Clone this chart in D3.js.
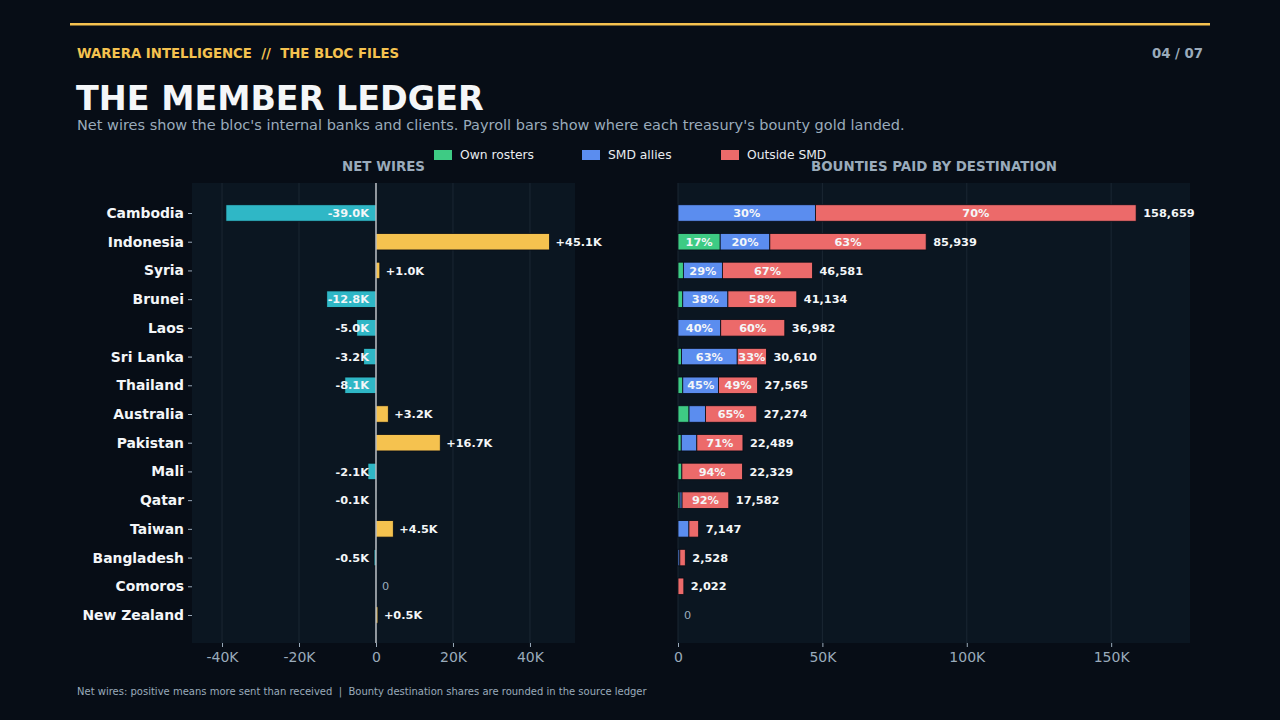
<!DOCTYPE html>
<html>
<head>
<meta charset="utf-8">
<script src="https://cdn.jsdelivr.net/npm/d3@7"></script>
<style>
  html, body { margin: 0; padding: 0; background: #070d16; }
  svg { display: block; font-family: "DejaVu Sans", sans-serif; }
</style>
</head>
<body>
<svg id="chart"></svg>
<script>
const countries = ["Cambodia", "Indonesia", "Syria", "Brunei", "Laos", "Sri Lanka", "Thailand",
  "Australia", "Pakistan", "Mali", "Qatar", "Taiwan", "Bangladesh", "Comoros", "New Zealand"];
const netWires = [-39000, 45100, 1000, -12800, -5000, -3200, -8100,
  3200, 16700, -2100, -100, 4500, -500, 0, 500];
const bountyTotal = [158659, 85939, 46581, 41134, 36982, 30610, 27565,
  27274, 22489, 22329, 17582, 7147, 2528, 2022, 0];
const ownShare =     [0, 17, 4, 4, 0, 4, 6, 14, 5, 6, 4, 0, 0, 0, 0];
const alliesShare =  [30, 20, 29, 38, 40, 63, 45, 21, 24, 0, 4, 53, 25, 0, 0];
const outsideShare = [70, 63, 67, 58, 60, 33, 49, 65, 71, 94, 92, 47, 75, 100, 0];
const seriesNames = ["Own rosters", "SMD allies", "Outside SMD"];
const netTicks = [-40000, -20000, 0, 20000, 40000];
const bountyTicks = [0, 50000, 100000, 150000];

const W = 1280, H = 720;
const bg = "#070d16", panelBg = "#0b1621", grid = "#1b2733";
const muted = "#9aabbb", gold = "#f5c24f", teal = "#2fb7c6";
const segColors = ["#3ecb84", "#5b8def", "#ec6a6a"];
const valueSize = 11.3;

const svg = d3.select("#chart").attr("width", W).attr("height", H);
svg.append("rect").attr("width", W).attr("height", H).attr("fill", bg);

// header
svg.append("rect").attr("x", 70).attr("y", 23).attr("width", 1140).attr("height", 2.5).attr("fill", gold);
svg.append("text").attr("x", 77).attr("y", 58).attr("fill", gold)
  .attr("font-size", 13.3).attr("font-weight", "bold")
  .attr("xml:space", "preserve").text("WARERA INTELLIGENCE  //  THE BLOC FILES");
svg.append("text").attr("x", 1203).attr("y", 58).attr("fill", muted).attr("text-anchor", "end")
  .attr("font-size", 13.3).attr("font-weight", "bold").text("04 / 07");
svg.append("text").attr("x", 76).attr("y", 110).attr("fill", "#f4f6f8")
  .attr("font-size", 33.4).attr("font-weight", "bold").text("THE MEMBER LEDGER");
svg.append("text").attr("x", 77).attr("y", 130).attr("fill", muted).attr("font-size", 14.5)
  .text("Net wires show the bloc's internal banks and clients. Payroll bars show where each treasury's bounty gold landed.");

// legend
const legendX = [434, 582, 721];
seriesNames.forEach((name, i) => {
  svg.append("rect").attr("x", legendX[i]).attr("y", 150).attr("width", 18).attr("height", 10)
    .attr("fill", segColors[i]);
  svg.append("text").attr("x", legendX[i] + 26).attr("y", 159).attr("fill", "#e8ecf0")
    .attr("font-size", 12.3).text(name);
});

const plotTop = 183, plotBottom = 643;
const y = d3.scalePoint().domain(countries).range([plotTop + 1, plotBottom + 1]).padding(1.01);
const barH = 16.5;

function fmtNet(v) {
  if (v === 0) return "0";
  return (v > 0 ? "+" : "-") + (Math.abs(v) / 1000).toFixed(1) + "K";
}
function fmtK(v) { return v === 0 ? "0" : (v / 1000) + "K"; }

// ---- left panel: net wires
const L = { x0: 192, x1: 575 };
const xNet = d3.scaleLinear().domain([-47800, 51700]).range([L.x0, L.x1]);
const left = svg.append("g");
left.append("rect").attr("x", L.x0).attr("y", plotTop).attr("width", L.x1 - L.x0).attr("height", plotBottom - plotTop)
  .attr("fill", panelBg);
left.append("g").selectAll("line").data(netTicks).join("line")
  .attr("x1", d => xNet(d)).attr("x2", d => xNet(d)).attr("y1", plotTop).attr("y2", plotBottom)
  .attr("stroke", grid).attr("stroke-width", 1);

left.append("g").selectAll("rect").data(countries).join("rect")
  .attr("x", (d, i) => Math.min(xNet(0), xNet(netWires[i])))
  .attr("y", d => y(d) - barH / 2)
  .attr("width", (d, i) => Math.abs(xNet(netWires[i]) - xNet(0)))
  .attr("height", barH)
  .attr("fill", (d, i) => netWires[i] >= 0 ? gold : teal)
  .attr("stroke", bg).attr("stroke-width", 0.8);

left.append("line").attr("x1", xNet(0)).attr("x2", xNet(0)).attr("y1", plotTop).attr("y2", plotBottom)
  .attr("stroke", "#e6e9ec").attr("stroke-width", 1.2);

left.append("g").selectAll("text").data(countries).join("text")
  .attr("x", (d, i) => netWires[i] > 0 ? xNet(netWires[i]) + 6 : netWires[i] < 0 ? xNet(0) - 7 : xNet(0) + 6)
  .attr("y", d => y(d) + 4.2)
  .attr("text-anchor", (d, i) => netWires[i] < 0 ? "end" : "start")
  .attr("font-size", valueSize)
  .attr("font-weight", (d, i) => netWires[i] === 0 ? "normal" : "bold")
  .attr("fill", (d, i) => netWires[i] === 0 ? muted : "#f4f6f8")
  .text((d, i) => fmtNet(netWires[i]));

const yAxis = left.append("g").attr("transform", `translate(${L.x0},0)`)
  .call(d3.axisLeft(y).tickSize(4).tickPadding(4));
yAxis.select(".domain").remove();
yAxis.selectAll(".tick line").attr("stroke", muted);
yAxis.selectAll(".tick text").attr("fill", "#f4f6f8").attr("font-size", 13.9)
  .attr("font-weight", "bold").attr("font-family", "DejaVu Sans");

const xAxisL = left.append("g").attr("transform", `translate(0,${plotBottom})`)
  .call(d3.axisBottom(xNet).tickValues(netTicks).tickFormat(fmtK).tickSize(4).tickPadding(5));
xAxisL.select(".domain").remove();
xAxisL.selectAll(".tick line").attr("stroke", muted);
xAxisL.selectAll(".tick text").attr("fill", muted).attr("font-size", 14).attr("font-family", "DejaVu Sans");

svg.append("text").attr("x", (L.x0 + L.x1) / 2).attr("y", 171).attr("text-anchor", "middle")
  .attr("fill", muted).attr("font-size", 13.4).attr("font-weight", "bold").text("NET WIRES");

// ---- right panel: bounties
const R = { x0: 678, x1: 1190 };
const xB = d3.scaleLinear().domain([0, 177300]).range([R.x0, R.x1]);
const right = svg.append("g");
right.append("rect").attr("x", R.x0).attr("y", plotTop).attr("width", R.x1 - R.x0).attr("height", plotBottom - plotTop)
  .attr("fill", panelBg);
right.append("g").selectAll("line").data(bountyTicks).join("line")
  .attr("x1", d => xB(d)).attr("x2", d => xB(d)).attr("y1", plotTop).attr("y2", plotBottom)
  .attr("stroke", grid).attr("stroke-width", 1);

const shares = [ownShare, alliesShare, outsideShare];
const segments = [];
countries.forEach((c, i) => {
  const sum = ownShare[i] + alliesShare[i] + outsideShare[i];
  let acc = 0;
  shares.forEach((s, k) => {
    const v = sum ? bountyTotal[i] * s[i] / sum : 0;
    if (v > 0) segments.push({ country: c, k, start: acc, end: acc + v, pct: s[i] });
    acc += v;
  });
});

right.append("g").selectAll("rect").data(segments).join("rect")
  .attr("x", d => xB(d.start))
  .attr("y", d => y(d.country) - barH / 2)
  .attr("width", d => xB(d.end) - xB(d.start))
  .attr("height", barH)
  .attr("fill", d => segColors[d.k])
  .attr("stroke", bg).attr("stroke-width", 0.8);

right.append("g").selectAll("text").data(segments.filter(d => d.end - d.start >= 9000)).join("text")
  .attr("x", d => (xB(d.start) + xB(d.end)) / 2)
  .attr("y", d => y(d.country) + 4.2)
  .attr("text-anchor", "middle").attr("font-size", valueSize).attr("font-weight", "bold")
  .attr("fill", "#f4f6f8").text(d => d.pct + "%");

right.append("g").selectAll("text").data(countries).join("text")
  .attr("x", (d, i) => xB(bountyTotal[i]) + (bountyTotal[i] ? 7 : 6))
  .attr("y", d => y(d) + 4.2)
  .attr("font-size", valueSize)
  .attr("font-weight", (d, i) => bountyTotal[i] ? "bold" : "normal")
  .attr("fill", (d, i) => bountyTotal[i] ? "#f4f6f8" : muted)
  .text((d, i) => d3.format(",")(bountyTotal[i]));

const xAxisR = right.append("g").attr("transform", `translate(0,${plotBottom})`)
  .call(d3.axisBottom(xB).tickValues(bountyTicks).tickFormat(fmtK).tickSize(4).tickPadding(5));
xAxisR.select(".domain").remove();
xAxisR.selectAll(".tick line").attr("stroke", muted);
xAxisR.selectAll(".tick text").attr("fill", muted).attr("font-size", 14).attr("font-family", "DejaVu Sans");

svg.append("text").attr("x", (R.x0 + R.x1) / 2).attr("y", 171).attr("text-anchor", "middle")
  .attr("fill", muted).attr("font-size", 13.4).attr("font-weight", "bold").text("BOUNTIES PAID BY DESTINATION");

// footer
svg.append("text").attr("x", 77).attr("y", 695).attr("fill", muted).attr("font-size", 10)
  .attr("xml:space", "preserve")
  .text("Net wires: positive means more sent than received  |  Bounty destination shares are rounded in the source ledger");
</script>
</body>
</html>
